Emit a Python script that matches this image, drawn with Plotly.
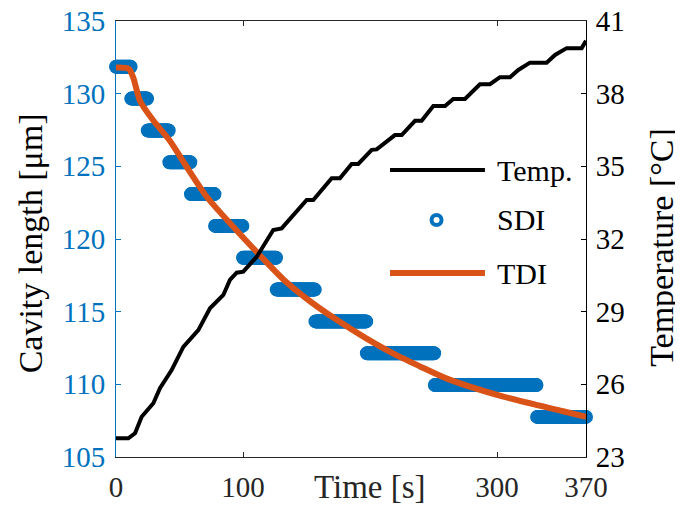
import plotly.graph_objects as go
import numpy as np

# temperature reading (right axis)
temp_t = [0, 9.7, 15, 20.2, 29.4, 34.6, 43.8, 53, 64.8, 74, 84.5, 89.7, 95, 100.2, 110.8,
          116, 123.8, 130.4, 150.1, 155.3, 169.8, 176.3, 185.5, 190.7, 201.3, 205.2, 213.1,
          219.6, 224.9, 235.4, 240.6, 249.8, 259, 265.5, 274.7, 286.5, 294.4, 302.3, 310.2,
          316.7, 325.9, 339, 345.6, 354.8, 366.6, 370]
temp_v = [23.77, 23.77, 23.98, 24.66, 25.22, 25.84, 26.59, 27.55, 28.24, 29.14, 29.69, 30.31,
          30.61, 30.65, 31.27, 31.68, 32.37, 32.44, 33.61, 33.61, 34.51, 34.51, 35.1, 35.1,
          35.68, 35.7, 36.02, 36.29, 36.29, 36.88, 36.88, 37.49, 37.49, 37.78, 37.78, 38.39,
          38.39, 38.68, 38.68, 38.98, 39.28, 39.28, 39.6, 39.88, 39.88, 40.18]

# SDI: quantised cavity length, segment start/end times and level
sdi_start = [0, 12, 25, 42, 59, 78, 100, 126.5, 157, 197.5, 251, 331.5]
sdi_end = [11.5, 24.5, 41.5, 58.5, 77.5, 99.5, 126, 156.5, 197, 250.5, 331, 370]
sdi_level = [131.85, 129.66, 127.47, 125.28, 123.09, 120.9, 118.71, 116.52, 114.33,
             112.14, 109.95, 107.76]

# TDI: continuous cavity length
tdi_t = [0, 10, 13.6, 18.9, 29.4, 42.5, 55.6, 71.4, 92.3, 113, 132, 153, 174, 197,
         218, 239, 260, 305, 352, 370]
tdi_v = [131.8, 131.72, 131.1, 129.5, 128.15, 126.75, 124.97, 122.91, 120.84,
         118.9, 117.2, 115.7, 114.42, 113.16, 112.13, 111.25, 110.41, 109.15, 108.15, 107.77]

BLUE = '#0072BD'
ORANGE = '#D95319'
AXC = '#262626'
FONT = 'Liberation Serif'

# expand SDI segments into samples every 0.5 s
sdi_x, sdi_y = [], []
for a, b, lv in zip(sdi_start, sdi_end, sdi_level):
    xs = np.arange(a, b + 0.01, 0.5)
    sdi_x += list(xs)
    sdi_y += [lv] * len(xs)

fig = go.Figure()
fig.add_trace(go.Scatter(x=sdi_x, y=sdi_y, mode='markers', name='SDI', cliponaxis=False,
                         marker=dict(symbol='circle-open', size=10, color=BLUE,
                                     line=dict(width=4, color=BLUE))))
fig.add_trace(go.Scatter(x=tdi_t, y=tdi_v, mode='lines', name='TDI',
                         line=dict(color=ORANGE, width=6, shape='spline', smoothing=0.7)))
fig.add_trace(go.Scatter(x=temp_t, y=temp_v, mode='lines', name='Temp.', yaxis='y2',
                         line=dict(color='black', width=4)))

# hand-made legend
legend_items = [('Temp.', 0.658, 'line', 'black', 4),
                ('SDI', 0.5436, 'marker', BLUE, 4),
                ('TDI', 0.422, 'line', ORANGE, 6)]
shapes = []
annotations = []
for label, yy, kind, col, w in legend_items:
    if kind == 'line':
        shapes.append(dict(type='line', xref='paper', yref='paper', x0=0.583, x1=0.785,
                           y0=yy, y1=yy, line=dict(color=col, width=w)))
    else:
        shapes.append(dict(type='circle', xref='paper', yref='paper', xsizemode='pixel',
                           ysizemode='pixel', xanchor=0.682, yanchor=yy, x0=-5, x1=5,
                           y0=-5, y1=5, line=dict(color=col, width=w), fillcolor='white'))
    annotations.append(dict(text=label, xref='paper', yref='paper', x=0.806, y=yy,
                            xanchor='left', yanchor='middle', showarrow=False,
                            font=dict(family=FONT, size=30, color='black')))

annotations.append(dict(text='Time [s]', xref='x', yref='paper', x=200, y=0,
                        yanchor='top', yshift=-10, showarrow=False,
                        font=dict(family=FONT, size=33, color=AXC)))
annotations.append(dict(text='Cavity length [μm]', xref='paper', yref='paper', x=-0.183,
                        y=0.49, xanchor='center', yanchor='middle', textangle=-90,
                        showarrow=False, font=dict(family=FONT, size=34, color='black')))
annotations.append(dict(text='Temperature [°C]', xref='paper', yref='paper', x=1.162,
                        y=0.48, xanchor='center', yanchor='middle', textangle=-90,
                        showarrow=False, font=dict(family=FONT, size=34, color='black')))

# page body has an 8px margin, so the figure is offset by 8px in the window
fig.update_layout(
    width=675, height=499,
    margin=dict(l=108, r=97, t=13, b=50, autoexpand=False),
    paper_bgcolor='white', plot_bgcolor='white',
    showlegend=False,
    font=dict(family=FONT, size=29, color='black'),
    shapes=shapes,
    annotations=annotations,
    xaxis=dict(range=[0, 370], tickvals=[0, 100, 300, 370], ticks='inside', ticklen=5,
               showline=True, linecolor=AXC, linewidth=1, mirror='ticks', showgrid=False,
               zeroline=False, tickfont=dict(color=AXC, size=29), tickcolor=AXC,
               ticklabelstandoff=4, automargin=False, ticklabeloverflow='allow'),
    yaxis=dict(range=[105, 135], tickvals=[105, 110, 115, 120, 125, 130, 135], ticks='inside',
               ticklen=5, showline=True, linecolor=BLUE, linewidth=1, tickcolor=BLUE,
               showgrid=False, zeroline=False, tickfont=dict(color=BLUE, size=29),
               ticklabelstandoff=4, automargin=False, ticklabeloverflow='allow'),
    yaxis2=dict(range=[23, 41], tickvals=[23, 26, 29, 32, 35, 38, 41], overlaying='y',
                side='right', ticks='inside', ticklen=5, showline=True, linecolor='black',
                linewidth=1, tickcolor='black', showgrid=False, zeroline=False,
                tickfont=dict(color='black', size=29), ticklabelstandoff=3,
                automargin=False, ticklabeloverflow='allow'),
)

fig.write_html("out.html")
